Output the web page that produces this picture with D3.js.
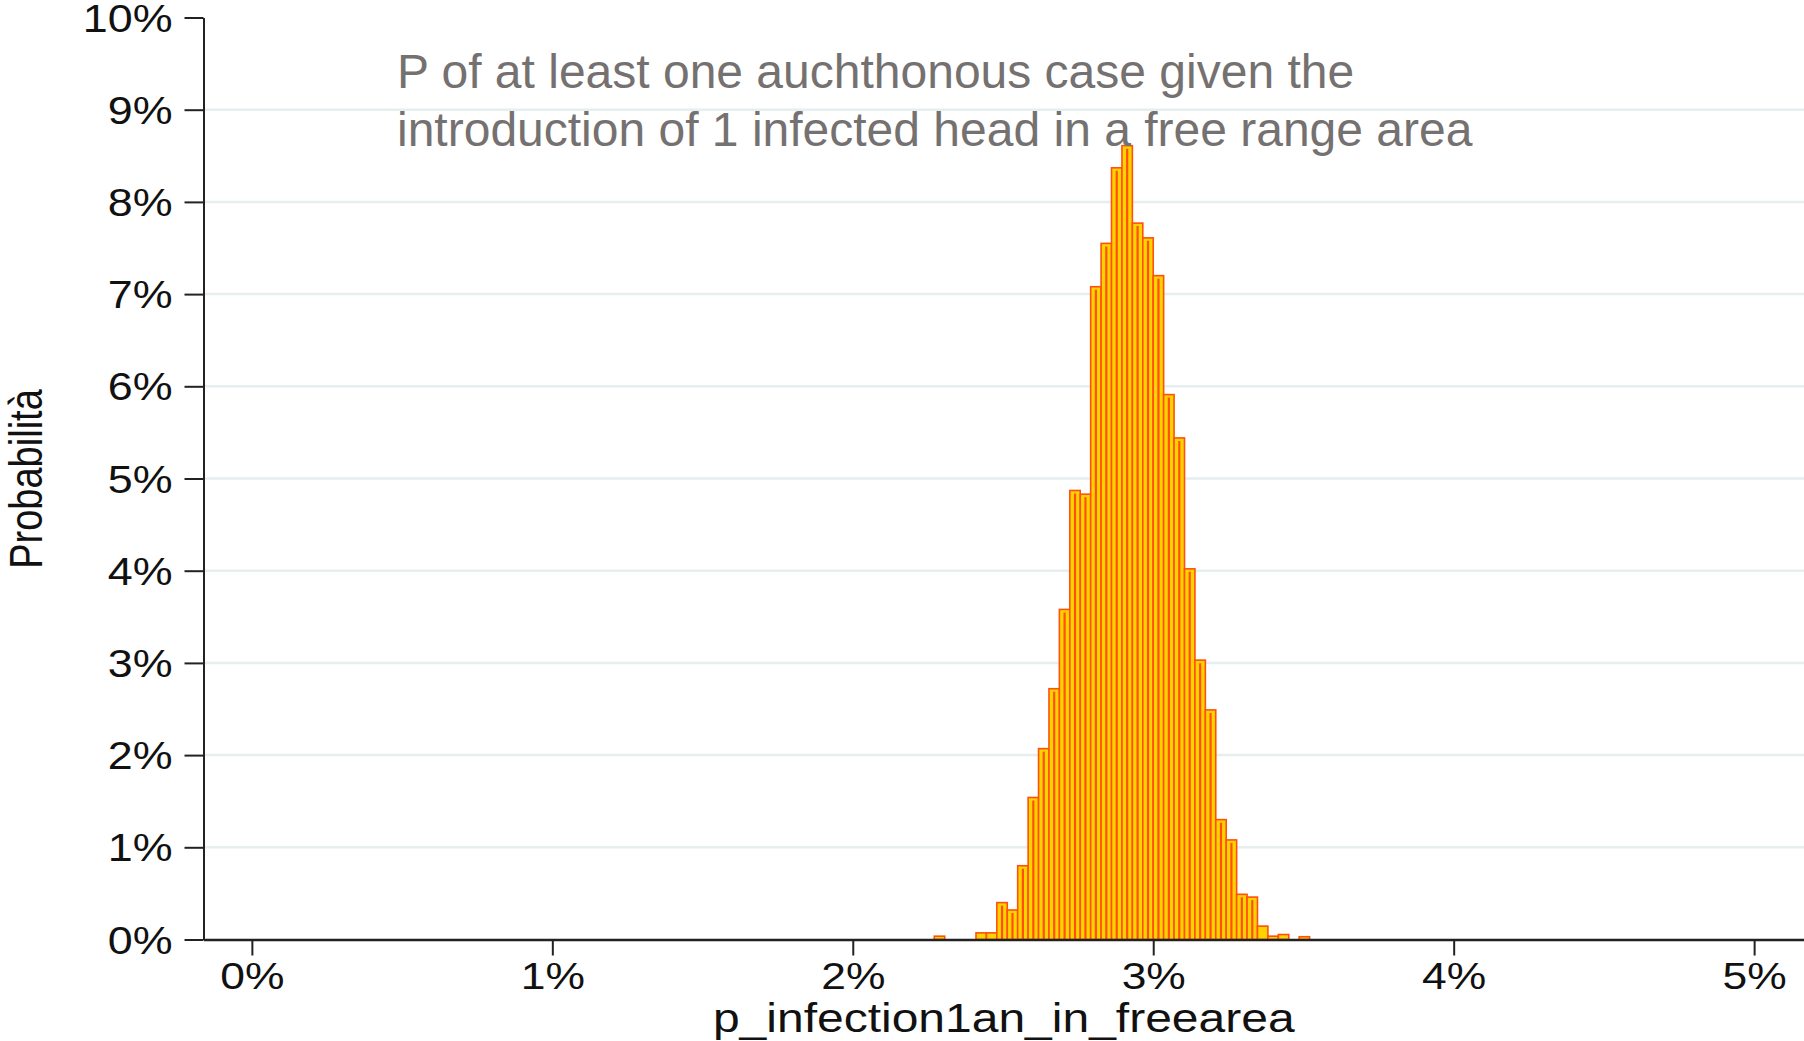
<!DOCTYPE html>
<html>
<head>
<meta charset="utf-8">
<script src="https://cdn.jsdelivr.net/npm/d3@7/dist/d3.min.js"></script>
<style>
  html, body { margin: 0; padding: 0; background: #fff; }
  svg { display: block; font-family: 'Liberation Sans', Arial, sans-serif; }
</style>
</head>
<body>
<svg id="chart" width="1804" height="1041"></svg>
<script>
// histogram of p_infection1an_in_freearea, values in %
const binStart = 2.2713
const binWidth = 0.0347
const binProb = [
  0.036, 0, 0, 0, 0.072, 0.072,
  0.40, 0.32, 0.80, 1.54, 2.07, 2.72, 3.58, 4.87, 4.83, 7.08,
  7.55, 8.37, 8.61, 7.77, 7.61, 7.20, 5.91, 5.44, 4.02, 3.03,
  2.49, 1.30, 1.08, 0.49, 0.46, 0.145, 0.036, 0.054, 0, 0.03
]
const xTicks = [0, 1, 2, 3, 4, 5]
const yTicks = [0, 1, 2, 3, 4, 5, 6, 7, 8, 9, 10]
const gridTicks = [1, 2, 3, 4, 5, 6, 7, 8, 9]
const titleLines = [
  'P of at least one auchthonous case given the',
  'introduction of 1 infected head in a free range area'
]
const xTitle = 'p_infection1an_in_freearea'
const yTitle = 'Probabilità'

const svg = d3.select('#chart')
const plotLeft = 203.5
const plotRight = 1804
const plotTop = 17.5
const plotBottom = 939.5

const x = d3.scaleLinear().domain([-0.161, 5.166]).range([plotLeft, plotRight])
const y = d3.scaleLinear().domain([0, 10]).range([plotBottom, plotTop])

// grid
svg.append('g').selectAll('line').data(gridTicks).enter().append('line')
  .attr('x1', plotLeft).attr('x2', plotRight)
  .attr('y1', d => y(d)).attr('y2', d => y(d))
  .attr('stroke', '#e6eef0').attr('stroke-width', 2.5)

// bars
const bins = binProb.map((p, i) => ({ x0: binStart + i * binWidth, x1: binStart + (i + 1) * binWidth, p: p }))
  .filter(d => d.p > 0)

const bars = svg.append('g').attr('class', 'bars')
bars.selectAll('rect').data(bins).enter().append('rect')
  .attr('x', d => x(d.x0))
  .attr('y', d => y(d.p))
  .attr('width', d => x(d.x1) - x(d.x0))
  .attr('height', d => y(0) - y(d.p))
  .attr('fill', '#ffd200')
  .attr('stroke', '#ff5010')
  .attr('stroke-width', 1.6)
bars.selectAll('line').data(bins.filter(d => d.p > 0.2)).enter().append('line')
  .attr('x1', d => x((d.x0 + d.x1) / 2)).attr('x2', d => x((d.x0 + d.x1) / 2))
  .attr('y1', y(0)).attr('y2', d => y(d.p) + 3)
  .attr('stroke', '#ff5010').attr('stroke-width', 2.2)

// y axis
const yAxis = svg.append('g').attr('transform', 'translate(' + plotLeft + ',0)')
  .call(d3.axisLeft(y).tickValues(yTicks).tickSize(19).tickSizeOuter(0).tickFormat(d => d + '%'))
yAxis.select('.domain').attr('stroke', '#222').attr('stroke-width', 2)
yAxis.selectAll('.tick line').attr('stroke', '#222').attr('stroke-width', 2)
yAxis.selectAll('.tick text')
  .attr('x', 0).attr('dy', '0.36em')
  .attr('transform', 'translate(-31,0) scale(1.18,1)')
  .attr('font-size', 38).attr('fill', '#111')
  .attr('font-family', 'Liberation Sans, Arial, sans-serif')

// x axis
const xAxis = svg.append('g').attr('transform', 'translate(0,' + plotBottom + ')')
  .call(d3.axisBottom(x).tickValues(xTicks).tickSize(16).tickSizeOuter(0).tickFormat(d => d + '%'))
xAxis.select('.domain').attr('stroke', '#222').attr('stroke-width', 2.5)
xAxis.selectAll('.tick line').attr('stroke', '#222').attr('stroke-width', 2)
xAxis.selectAll('.tick text')
  .attr('y', 0).attr('dy', 0)
  .attr('transform', 'translate(0,49) scale(1.2,1)')
  .attr('font-size', 37).attr('fill', '#111')
  .attr('font-family', 'Liberation Sans, Arial, sans-serif')

// axis titles
svg.append('text')
  .attr('transform', 'translate(' + ((plotLeft + plotRight) / 2) + ',1031.5) scale(1.2,1)')
  .attr('text-anchor', 'middle')
  .attr('font-size', 40).attr('fill', '#111')
  .text(xTitle)

svg.append('text')
  .attr('transform', 'translate(41.5,479) scale(1.2,1) rotate(-90)')
  .attr('text-anchor', 'middle')
  .attr('font-size', 38).attr('fill', '#111')
  .text(yTitle)

// chart title
svg.append('g').selectAll('text').data(titleLines).enter().append('text')
  .attr('x', 397)
  .attr('y', (d, i) => 88 + i * 58)
  .attr('font-size', 48).attr('fill', '#757171')
  .text(d => d)
</script>
</body>
</html>
